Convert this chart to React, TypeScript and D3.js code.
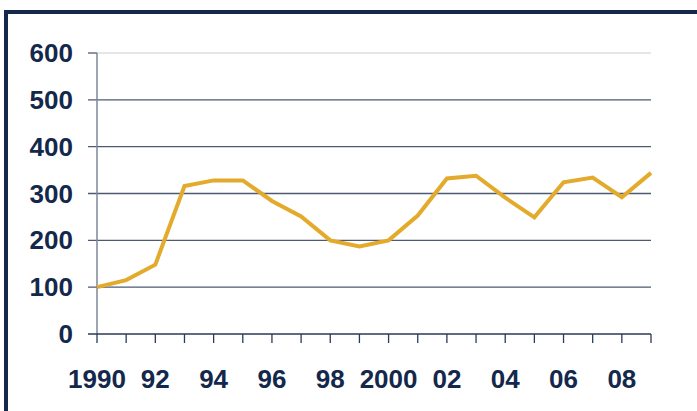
import React, { useEffect, useRef } from 'react'
import * as d3 from 'd3'

const years = d3.range(1990, 2010)
const values = [100, 115, 148, 316, 328, 328, 284, 251, 200, 187, 200, 253, 332, 338, 291, 249, 324, 334, 292, 344]
const yTicks = [0, 100, 200, 300, 400, 500, 600]
const xTickLabels = [
  { year: 1990, label: '1990' },
  { year: 1992, label: '92' },
  { year: 1994, label: '94' },
  { year: 1996, label: '96' },
  { year: 1998, label: '98' },
  { year: 2000, label: '2000' },
  { year: 2002, label: '02' },
  { year: 2004, label: '04' },
  { year: 2006, label: '06' },
  { year: 2008, label: '08' }
]

const navy = '#14284b'
const font = '"Liberation Sans", Arial, sans-serif'

function App () {
  const ref = useRef<SVGSVGElement>(null)

  useEffect(() => {
    const svg = d3.select(ref.current)
    svg.selectAll('*').remove()

    // frame, only top and left show
    svg.append('rect').attr('x', 4).attr('y', 10).attr('width', 693).attr('height', 4).attr('fill', navy)
    svg.append('rect').attr('x', 4).attr('y', 10).attr('width', 4).attr('height', 401).attr('fill', navy)

    const x = d3.scaleLinear().domain([1990, 2009]).range([97, 651])
    const y = d3.scaleLinear().domain([0, 600]).range([334, 53])

    // gridlines
    svg.append('g')
      .selectAll('line')
      .data(yTicks.filter(d => d > 0))
      .enter()
      .append('line')
      .attr('x1', 88)
      .attr('x2', 651)
      .attr('y1', d => y(d))
      .attr('y2', d => y(d))
      .attr('stroke', d => d === 600 ? '#dcdde3' : '#4d5a72')
      .attr('stroke-width', 1.3)

    // y tick marks for top line
    svg.append('line')
      .attr('x1', 88).attr('x2', 97)
      .attr('y1', y(600)).attr('y2', y(600))
      .attr('stroke', '#5d6880').attr('stroke-width', 1.3)

    // y axis line
    svg.append('line')
      .attr('x1', 97).attr('x2', 97)
      .attr('y1', y(600)).attr('y2', y(0))
      .attr('stroke', '#7d8799').attr('stroke-width', 1.5)

    // x axis
    svg.append('line')
      .attr('x1', 88).attr('x2', 651)
      .attr('y1', y(0)).attr('y2', y(0))
      .attr('stroke', '#2b3a58').attr('stroke-width', 1.5)

    svg.append('g')
      .selectAll('line')
      .data(years)
      .enter()
      .append('line')
      .attr('x1', d => x(d))
      .attr('x2', d => x(d))
      .attr('y1', y(0))
      .attr('y2', y(0) + 9)
      .attr('stroke', '#2b3a58')
      .attr('stroke-width', 1.3)

    // y labels
    svg.append('g')
      .selectAll('text')
      .data(yTicks)
      .enter()
      .append('text')
      .attr('x', 73)
      .attr('y', d => y(d) + 9)
      .attr('text-anchor', 'end')
      .attr('font-family', font)
      .attr('font-weight', 'bold')
      .attr('font-size', 26)
      .attr('fill', navy)
      .text(d => d)

    // x labels
    svg.append('g')
      .selectAll('text')
      .data(xTickLabels)
      .enter()
      .append('text')
      .attr('x', d => x(d.year))
      .attr('y', 388)
      .attr('text-anchor', 'middle')
      .attr('font-family', font)
      .attr('font-weight', 'bold')
      .attr('font-size', 26)
      .attr('fill', navy)
      .text(d => d.label)

    // data line
    const line = d3.line<number>()
      .x((d, i) => x(years[i]))
      .y(d => y(d))
    svg.append('path')
      .datum(values)
      .attr('d', line)
      .attr('fill', 'none')
      .attr('stroke', '#e3aa2b')
      .attr('stroke-width', 4)
      .attr('stroke-linejoin', 'miter')
  }, [])

  return (
    <svg
      ref={ref}
      width={697}
      height={411}
      style={{ position: 'absolute', left: 0, top: 0, background: '#fff' }}
    />
  )
}

export default App
